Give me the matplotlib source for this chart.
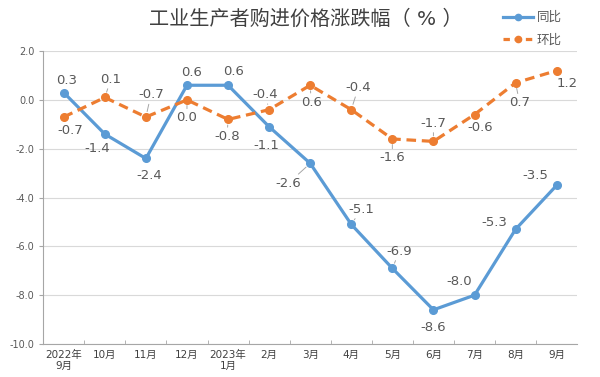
import matplotlib
matplotlib.use('Agg')
import matplotlib.pyplot as plt
import numpy as np
from matplotlib.lines import Line2D

plt.rcParams['font.family'] = ['DejaVu Sans', 'Noto Sans CJK SC']

# data
months = ['2022年\n9月', '10月', '11月', '12月', '2023年\n1月', '2月', '3月',
          '4月', '5月', '6月', '7月', '8月', '9月']
yoy = [0.3, -1.4, -2.4, 0.6, 0.6, -1.1, -2.6, -5.1, -6.9, -8.6, -8.0, -5.3, -3.5]
mom = [-0.7, 0.1, -0.7, 0.0, -0.8, -0.4, 0.6, -0.4, -1.6, -1.7, -0.6, 0.7, 1.2]

# label offsets in pixels (dx, dy), dy positive = up; flag = leader line
yoy_off = [(3, 12, 0), (-8, -14, 0), (3, -17, 0), (5, 13, 0), (6, 14, 0),
           (-3, -19, 0), (-22, -20, 1), (10, 15, 1), (7, 17, 1), (0, -18, 0),
           (-15, 14, 0), (-21, 7, 0), (-21, 10, 0)]
mom_off = [(7, -14, 0), (6, 18, 1), (5, 22, 1), (0, -18, 1), (-1, -17, 1),
           (-4, 15, 1), (1, -17, 1), (7, 22, 1), (0, -19, 1), (0, 18, 1),
           (6, -13, 0), (4, -20, 1), (10, -13, 0)]

blue = '#5B9BD5'
orange = '#ED7D31'
txt = '#595959'

fig = plt.figure(figsize=(6, 3.77), dpi=100)
ax = fig.add_axes([0.072, 0.0875, 0.89, 0.777])

x = np.arange(len(months))
ax.plot(x, yoy, color=blue, lw=2.3, marker='o', ms=5.5, zorder=3)
ax.plot(x, mom, color=orange, lw=2.3, ls=(0, (3, 1.8)), marker='o', ms=5.5, zorder=3)

for xs, vals, offs in [(x, yoy, yoy_off), (x, mom, mom_off)]:
    for xi, v, (dx, dy, lead) in zip(xs, vals, offs):
        ap = None
        if lead:
            ap = dict(arrowstyle='-', color='#A6A6A6', lw=0.7, shrinkA=0, shrinkB=4)
        ax.annotate(f'{v:.1f}', (xi, v), xytext=(dx, dy), textcoords='offset pixels',
                    ha='center', va='center', fontsize=9.5, color=txt,
                    arrowprops=ap, zorder=4)

ax.set_xlim(-0.5, len(months) - 0.5)
ax.set_ylim(-10, 2)
ax.set_yticks(np.arange(-10, 2.1, 2))
ax.set_yticklabels([f'{v:.1f}' for v in np.arange(-10, 2.1, 2)])
ax.set_xticks(x)
ax.set_xticklabels(months)
ax.set_xticks(np.arange(0.5, len(months) - 0.5, 1), minor=True)
ax.tick_params(axis='x', which='major', length=0, labelsize=7.5, pad=4)
ax.tick_params(axis='x', which='minor', direction='in', length=3, color='#A6A6A6')
ax.tick_params(axis='y', length=3, color='#A6A6A6', labelsize=7, labelcolor=txt)
for lab in ax.get_xticklabels():
    lab.set_color('#404040')
ax.grid(axis='y', color='#D9D9D9', lw=0.8)
ax.set_axisbelow(True)
for s in ['top', 'right']:
    ax.spines[s].set_visible(False)
for s in ['left', 'bottom']:
    ax.spines[s].set_color('#A6A6A6')

fig.text(0.51, 0.95, '工业生产者购进价格涨跌幅（ % ）', ha='center', va='center',
         fontsize=14.5, color='#404040')

handles = [Line2D([], [], color=blue, lw=2.3, marker='o', ms=4.5),
           Line2D([], [], color=orange, lw=2.3, ls=(0, (2, 1.5)), marker='o', ms=4.5)]
fig.legend(handles, ['同比', '环比'], loc='upper right', bbox_to_anchor=(0.955, 1.0),
           frameon=False, fontsize=9, labelcolor=txt, handlelength=2.4,
           handletextpad=0.3, labelspacing=0.75)

fig.savefig('out.png', dpi=100)
